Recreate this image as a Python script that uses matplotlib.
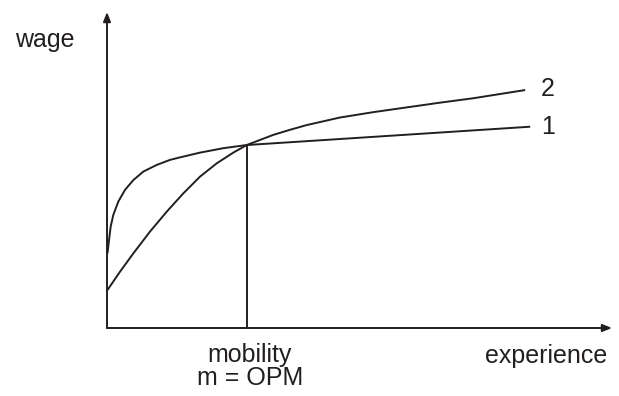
import matplotlib.pyplot as plt

plt.rcParams['font.family'] = ['Liberation Sans', 'DejaVu Sans']

# curve 1: steep start, then nearly flat after mobility point
exp1 = [0.01, 0.040, 0.073, 0.125, 0.224, 0.356, 0.521, 0.719, 0.984,
        1.248, 1.446, 1.842, 2.303, 2.766, 8.38]
wage1 = [2.36, 2.78, 3.21, 3.58, 4.00, 4.37, 4.68, 4.95, 5.16,
         5.32, 5.40, 5.55, 5.69, 5.79, 6.37]

# curve 2: lower start, keeps growing
exp2 = [0.0, 0.257, 0.521, 0.851, 1.182, 1.511, 1.842, 2.172, 2.501, 2.766,
        3.29, 3.62, 3.95, 4.61, 5.27, 5.93, 6.59, 7.25, 8.28]
wage2 = [1.18, 1.78, 2.36, 3.05, 3.68, 4.26, 4.79, 5.21, 5.55, 5.79,
         6.11, 6.27, 6.42, 6.66, 6.83, 6.98, 7.13, 7.27, 7.53]

mobility = 2.766
mobility_wage = 5.79

fig = plt.figure(figsize=(6.19, 3.96), dpi=100)
ax = fig.add_axes([107 / 619, 68 / 396, 505 / 619, 316 / 396])
ax.set_xlim(0, 10)
ax.set_ylim(0, 10)
ax.axis('off')

lc = '#231f20'
lw = 1.4
arrow = dict(arrowstyle='-|>,head_length=0.55,head_width=0.22', color=lc, lw=lw,
             shrinkA=0, shrinkB=0)
ax.annotate('', xy=(10, 0), xytext=(0, 0), arrowprops=arrow, annotation_clip=False)
ax.annotate('', xy=(0, 10), xytext=(0, 0), arrowprops=arrow, annotation_clip=False)

ax.plot(exp1, wage1, color=lc, lw=lw, solid_capstyle='butt', solid_joinstyle='round')
ax.plot(exp2, wage2, color=lc, lw=lw, solid_capstyle='butt', solid_joinstyle='round')
ax.plot([mobility, mobility], [0, mobility_wage], color=lc, lw=lw)

fs = 18
ax.text(-1.23, 8.89, 'wage', fontsize=fs, ha='center', va='baseline', color=lc)
ax.text(8.69, -1.11, 'experience', fontsize=fs, ha='center', va='baseline', color=lc)
ax.text(2.83, -1.08, 'mobility', fontsize=fs, ha='center', va='baseline', color=lc)
ax.text(2.83, -1.80, 'm = OPM', fontsize=fs, ha='center', va='baseline', color=lc)
ax.text(8.73, 7.56, '2', fontsize=fs, ha='center', va='center', color=lc)
ax.text(8.73, 6.36, '1', fontsize=fs, ha='center', va='center', color=lc)

fig.savefig('out.png', dpi=100)
